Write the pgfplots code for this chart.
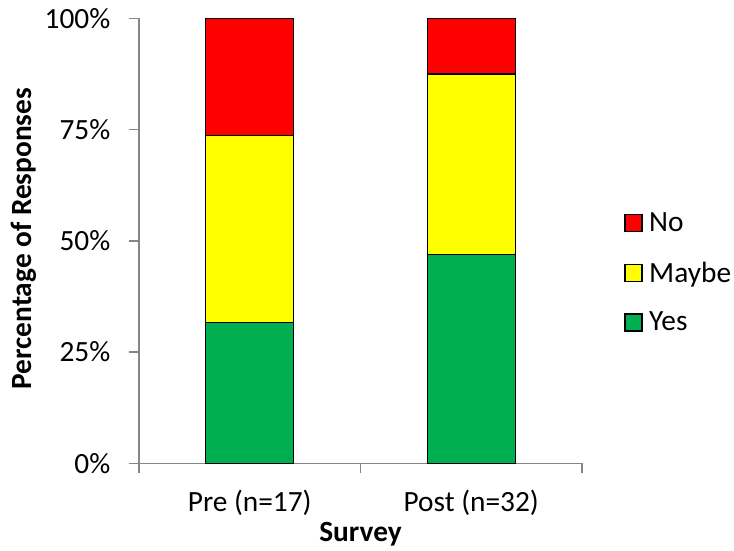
\documentclass[border=0pt]{standalone}
\usepackage{fontspec}
\setmainfont{Carlito}
\usepackage{pgfplots}
\pgfplotsset{compat=1.18}
\definecolor{barRed}{HTML}{FF0000}
\definecolor{barYellow}{HTML}{FFFF00}
\definecolor{barGreen}{HTML}{00B050}
\definecolor{axisGray}{HTML}{868686}

\begin{document}
\begin{tikzpicture}
\useasboundingbox (0pt,0pt) rectangle (550.5pt,412.5pt);
\begin{axis}[
  at={(104.25pt,65.0pt)}, anchor=south west,
  scale only axis, width=332.25pt, height=333.75pt,
  font=\fontsize{22}{26}\selectfont,
  ybar stacked, bar width=66pt,
  xmin=-0.5, xmax=1.5, ymin=0, ymax=100,
  axis lines*=left,
  axis line style={axisGray, line width=1pt},
  xtick={0,1}, xticklabels={Pre (n=17), Post (n=32)},
  minor xtick={-0.5,0.5,1.5},
  ytick={0,25,50,75,100},
  yticklabels={0\%,25\%,50\%,75\%,100\%},
  xticklabel style={yshift=-9pt},
  yticklabel style={xshift=-10.5pt},
  tick align=outside,
  major tick length=7.5pt, minor tick length=7.5pt,
  tick style={axisGray, line width=1pt},
  major x tick style={draw=none},
  xlabel={\bfseries Survey},
  xlabel style={at={(axis description cs:0.5,-0.1757)}, anchor=base},
  ylabel={\bfseries Percentage of Responses},
  ylabel style={at={(axis description cs:-0.259,0.505)}, anchor=center},
  legend cell align=left,
  legend style={at={(1.086,0.428)}, anchor=west, draw=none, fill=none,
    font=\fontsize{22}{26}\selectfont, row sep=17pt,
    /tikz/every odd column/.append style={column sep=3pt}},
  legend image code/.code={\draw[#1, draw=black, line width=0.9pt] (0pt,-6.4pt) rectangle (12.75pt,6.4pt);},
  reverse legend,
]
% Share of responses per survey, stacked bottom to top
\addplot[fill=barGreen, draw=black, line width=0.9pt] coordinates {(0,31.58) (1,46.88)};
\addlegendentry{Yes}
\addplot[fill=barYellow, draw=black, line width=0.9pt] coordinates {(0,42.11) (1,40.62)};
\addlegendentry{Maybe}
\addplot[fill=barRed, draw=black, line width=0.9pt] coordinates {(0,26.31) (1,12.50)};
\addlegendentry{No}
\end{axis}
\end{tikzpicture}
\end{document}
